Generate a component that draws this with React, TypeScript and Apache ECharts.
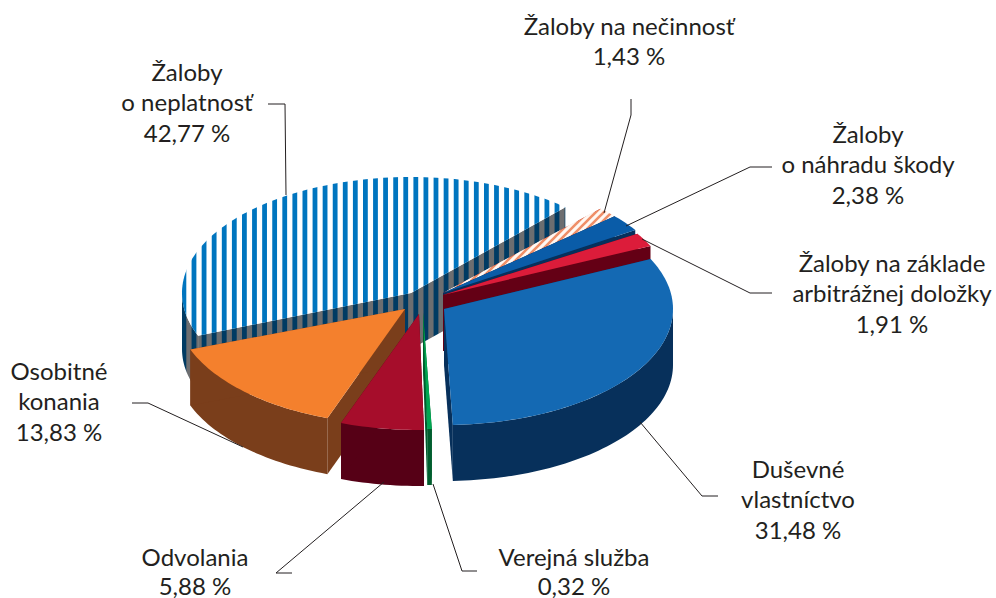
import React, { useEffect, useRef } from "react";
import * as echarts from "echarts";

const names = [
  "Žaloby\no neplatnosť",
  "Žaloby na nečinnosť",
  "Žaloby\no náhradu škody",
  "Žaloby na základe\narbitrážnej doložky",
  "Duševné\nvlastníctvo",
  "Verejná služba",
  "Odvolania",
  "Osobitné\nkonania",
];
const values = [42.77, 1.43, 2.38, 1.91, 31.48, 0.32, 5.88, 13.83];

// Layout only
const startAngle = -111.6; // clockwise from the top, start of slice 0
const RX = 229, RY = 116, DEPTH = 56;
const apexes = [[411, 293], [443, 293], [443, 293], [443, 295], [444, 309], [423, 313], [419, 314], [405, 309]];
const angleShift = [0, 1, 1, 2, 1.5, 1.5, 1.3, 1.2];
const drawOrder = [0, 1, 2, 3, 7, 6, 5, 4];
const labelPos = [[187, 71], [629, 25], [868, 133], [892, 262], [798, 468], [574, 556], [195, 556], [59, 370]];
const LINE_STEP = 30.7;
const leaders = [
  [[268, 104], [285, 104], [286, 195]],
  [[631, 99], [631, 115], [604, 213]],
  [[772, 167], [750, 167], [626, 226]],
  [[772, 293], [750, 293], [642, 239]],
  [[718, 496], [702, 496], [640, 422]],
  [[477, 571], [462, 571], [433, 484]],
  [[292, 573], [276, 573], [384, 482]],
  [[132, 403], [148, 403], [243, 447]],
];

function stripeCanvas(bg: string, fg: string) {
  const c = document.createElement("canvas");
  c.width = 121; c.height = 4;
  const g = c.getContext("2d")!;
  g.fillStyle = bg; g.fillRect(0, 0, 121, 4);
  g.fillStyle = fg;
  for (let i = 0; i < 12; i++) g.fillRect(i * 10.083, 0, 4.8, 4);
  return { image: c, repeat: "repeat", x: 192, y: 0 };
}
function hatchCanvas(bg: string, fg: string) {
  const c = document.createElement("canvas");
  c.width = 8; c.height = 8;
  const g = c.getContext("2d")!;
  g.fillStyle = bg; g.fillRect(0, 0, 8, 8);
  g.strokeStyle = fg; g.lineWidth = 2.6;
  g.beginPath();
  g.moveTo(-1, 9); g.lineTo(9, -1);
  g.moveTo(-5, 5); g.lineTo(5, -5);
  g.moveTo(3, 13); g.lineTo(13, 3);
  g.stroke();
  return { image: c, repeat: "repeat" };
}

const fmt = (v: number) => v.toFixed(2).replace(".", ",") + " %";

export default function App() {
  const ref = useRef<HTMLDivElement>(null);
  useEffect(() => {
    document.body.style.margin = "0";
    const chart = echarts.init(ref.current!, undefined, { renderer: "svg" });
    const total = values.reduce((a, b) => a + b, 0);
    const starts: number[] = [];
    let acc = startAngle;
    values.forEach((v) => { starts.push(acc); acc += (v / total) * 360; });

    const tops: any[] = [
      stripeCanvas("#ffffff", "#0075bf"), hatchCanvas("#fff8f3", "#ef8f68"), "#0a5ca8", "#dc1c3a",
      "#1469b3", "#00a651", "#a60d2b", "#f4802d",
    ];
    const walls: any[] = [
      stripeCanvas("#6d6e70", "#003b63"), hatchCanvas("#f2d6d0", "#a3202c"), "#07305c", "#640015",
      "#07305b", "#005e2e", "#560016", "#7a3e1b",
    ];

    const renderItem = (_p: any, api: any) => {
      const val = api.value(0);
      const i = api.value(1);
      const a0 = starts[i] + angleShift[i];
      const a1 = a0 + (val / total) * 360;
      const [cx, cy] = apexes[i];
      const pt = (deg: number, dy = 0) => {
        const r = (deg * Math.PI) / 180;
        return [cx + RX * Math.sin(r), cy - RY * Math.cos(r) + dy];
      };
      const arc = (from: number, to: number, dy = 0) => {
        const n = Math.max(2, Math.ceil(Math.abs(to - from) / 1.5));
        const out: number[][] = [];
        for (let k = 0; k <= n; k++) out.push(pt(from + ((to - from) * k) / n, dy));
        return out;
      };
      const children: any[] = [];
      const poly = (points: number[][], fill: any) =>
        children.push({ type: "polygon", shape: { points }, style: { fill, stroke: "none" } });
      const visibleRanges: number[][] = [];
      for (const [f, t] of [[90, 270], [-270, -90]]) {
        const lo = Math.max(a0, f), hi = Math.min(a1, t);
        if (lo < hi) visibleRanges.push([lo, hi]);
      }
      visibleRanges.forEach(([lo, hi]) =>
        poly([...arc(lo, hi), ...arc(lo, hi, DEPTH).reverse()], walls[i]));
      [a0, a1].forEach((a) => {
        const e = pt(a);
        poly([[cx, cy], e, [e[0], e[1] + DEPTH], [cx, cy + DEPTH]], walls[i]);
      });
      poly([[cx, cy], ...arc(a0, a1)], tops[i]);
      return { type: "group", children };
    };

    const graphics: any[] = [];
    leaders.forEach((points) =>
      graphics.push({
        type: "polyline", silent: true, z: 10,
        shape: { points },
        style: { stroke: "#231f20", lineWidth: 1, fill: "none" },
      }));
    names.forEach((n, i) => {
      const lines = [...n.split("\n"), fmt(values[i])];
      lines.forEach((line, k) =>
        graphics.push({
          type: "text", silent: true, z: 11,
          x: labelPos[i][0], y: Math.min(labelPos[i][1] + k * LINE_STEP, 585),
          style: {
            text: line,
            fontFamily: "Lato", fontSize: 24,
            fill: "#231f20", align: "center", verticalAlign: "middle",
          },
        }));
    });

    chart.setOption({
      animation: false,
      backgroundColor: "#ffffff",
      graphic: graphics,
      series: [{
        type: "custom",
        coordinateSystem: "none",
        silent: true,
        clip: false,
        renderItem,
        data: drawOrder.map((i) => ({ name: names[i], value: [values[i], i] })),
      }],
    });
    return () => chart.dispose();
  }, []);
  return <div ref={ref} style={{ width: 996, height: 598 }} />;
}
